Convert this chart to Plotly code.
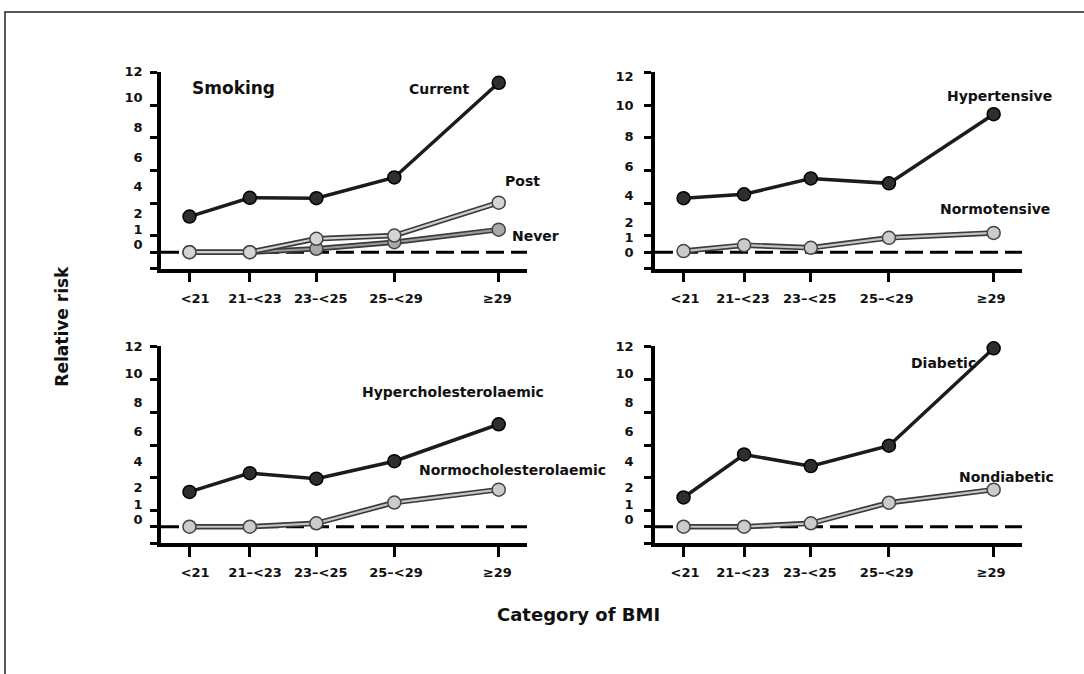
import plotly.graph_objects as go

# ---------------- data ----------------
categories = ["<21", "21\u2013<23", "23\u2013<25", "25\u2013<29", "\u226529"]
bmi_x = [0, 0.604, 1.27, 2.05, 3.095]          # category positions on the BMI axis
xlab_left = [0.057, 0.657, 1.314, 2.067, 3.082]  # where the labels sit (left panels)
xlab_right = [0.015, 0.593, 1.26, 2.027, 3.07]   # (right panels)

ytick_vals = [0, 1, 2, 4, 6, 8, 10, 12]
ylab_text = ["12", "10", "8", "6", "4", "2", "1", "0"]
ylab_tl = [12.04, 10.45, 8.63, 6.82, 5.0, 3.4, 2.39, 1.48]
ylab_tr = [11.76, 9.95, 8.07, 6.26, 4.5, 2.85, 1.9, 0.97]
ylab_bottom = [12.04, 10.4, 8.58, 6.81, 5.02, 3.38, 2.36, 1.42]

smoking_current = [3.18, 4.33, 4.30, 5.57, 11.36]
smoking_post = [1.0, 1.0, 1.82, 2.02, 4.03]
smoking_never = [1.0, 1.0, 1.21, 1.61, 2.38]

hypertensive = [4.30, 4.54, 5.51, 5.21, 9.44]
normotensive = [1.07, 1.43, 1.27, 1.88, 2.18]

hyperchol = [3.13, 4.28, 3.94, 5.01, 7.27]
normochol = [1.0, 1.0, 1.21, 2.48, 3.27]

diabetic = [2.79, 5.42, 4.71, 5.96, 11.92]
nondiabetic = [1.0, 1.0, 1.21, 2.47, 3.27]

reference_rr = 1

W, H = 1084, 674
FONT = "DejaVu Sans"


def px(x):
    return x / W


def py(y):
    return 1 - y / H


fig = go.Figure()

panels = [
    dict(n=1, xd=[px(161), px(527)], yd=[py(264.3), py(65.2)], xl=xlab_left, yl=ylab_tl, ys=12),
    dict(n=2, xd=[px(655), px(1022)], yd=[py(264.3), py(65.2)], xl=xlab_right, yl=ylab_tr, ys=15),
    dict(n=3, xd=[px(161), px(527)], yd=[py(541.7), py(342.7)], xl=xlab_left, yl=ylab_bottom, ys=12),
    dict(n=4, xd=[px(655), px(1022)], yd=[py(541.7), py(342.7)], xl=xlab_right, yl=ylab_bottom, ys=15),
]

tickfont = dict(family=FONT, size=13, color="#111", weight="bold")

layout = dict(
    width=W, height=H,
    margin=dict(l=0, r=0, t=0, b=0),
    paper_bgcolor="white", plot_bgcolor="white",
    showlegend=False,
    shapes=[], annotations=[],
)

for p in panels:
    n = p["n"]
    xk = "xaxis" if n == 1 else f"xaxis{n}"
    yk = "yaxis" if n == 1 else f"yaxis{n}"
    xid = "x" if n == 1 else f"x{n}"
    yid = "y" if n == 1 else f"y{n}"
    layout[xk] = dict(
        domain=p["xd"], range=[-0.285, 3.378], anchor=yid,
        showline=True, linewidth=3.5, linecolor="black",
        showgrid=False, zeroline=False,
        tickmode="array", tickvals=p["xl"], ticktext=categories,
        ticks="", ticklabelstandoff=15, tickfont=tickfont,
        minor=dict(tickmode="array", tickvals=bmi_x, ticks="outside",
                   ticklen=10, tickwidth=3, tickcolor="black", showgrid=False),
    )
    layout[yk] = dict(
        domain=p["yd"], range=[0, 12.05], anchor=xid,
        showline=True, linewidth=3.5, linecolor="black",
        showgrid=False, zeroline=False,
        tickmode="array", tickvals=p["yl"], ticktext=ylab_text,
        ticks="", ticklabelstandoff=p["ys"], tickfont=tickfont,
        minor=dict(tickmode="array", tickvals=ytick_vals, ticks="outside",
                   ticklen=7, tickwidth=3, tickcolor="black", showgrid=False),
    )
    layout["shapes"].append(dict(
        type="line", xref=f"{xid} domain", yref=yid, x0=0, x1=1,
        y0=reference_rr, y1=reference_rr, layer="below",
        line=dict(color="black", width=3, dash="18px,7px"),
    ))


def dark(y, n):
    fig.add_trace(go.Scatter(
        x=bmi_x, y=y, mode="lines+markers",
        xaxis="x" if n == 1 else f"x{n}", yaxis="y" if n == 1 else f"y{n}",
        line=dict(color="#1c1c1c", width=3.5),
        marker=dict(size=13, color="#2e2e2e", line=dict(color="#000", width=1.5)),
        hoverinfo="skip", cliponaxis=False,
    ))


def light(y, n, fill="#cbcbcb", inner="#c4c4c4"):
    xa = "x" if n == 1 else f"x{n}"
    ya = "y" if n == 1 else f"y{n}"
    fig.add_trace(go.Scatter(
        x=bmi_x, y=y, mode="lines", xaxis=xa, yaxis=ya,
        line=dict(color="#3a3a3a", width=5.5), hoverinfo="skip", cliponaxis=False,
    ))
    fig.add_trace(go.Scatter(
        x=bmi_x, y=y, mode="lines+markers", xaxis=xa, yaxis=ya,
        line=dict(color=inner, width=2.2),
        marker=dict(size=13, color=fill, line=dict(color="#444", width=1.5)),
        hoverinfo="skip", cliponaxis=False,
    ))


dark(smoking_current, 1)
light(smoking_never, 1, fill="#a9a9a9", inner="#9a9a9a")
light(smoking_post, 1, fill="#d4d4d4", inner="#cfcfcf")
dark(hypertensive, 2)
light(normotensive, 2)
dark(hyperchol, 3)
light(normochol, 3)
dark(diabetic, 4)
light(nondiabetic, 4)

labels = [
    ("Smoking", 190, 81.7, 17),
    ("Current", 406.7, 83.3, 14),
    ("Post", 503, 176, 14),
    ("Never", 510, 231, 14),
    ("Hypertensive", 945, 90, 14),
    ("Normotensive", 938.3, 204, 14),
    ("Hypercholesterolaemic", 360, 389.3, 14),
    ("Normocholesterolaemic", 416.7, 468.3, 14),
    ("Diabetic", 909.3, 360, 14),
    ("Nondiabetic", 956.7, 475, 14),
]
for t, x, y, s in labels:
    layout["annotations"].append(dict(
        text=t, xref="paper", yref="paper", x=px(x), y=py(y),
        xanchor="left", yanchor="middle", showarrow=False,
        font=dict(family=FONT, size=s, color="#111", weight="bold"),
    ))

layout["annotations"].append(dict(
    text="Relative risk", xref="paper", yref="paper", x=px(62), y=py(323),
    xanchor="center", yanchor="middle", showarrow=False, textangle=-90,
    font=dict(family=FONT, size=17, color="#111", weight="bold"),
))
layout["annotations"].append(dict(
    text="Category of BMI", xref="paper", yref="paper", x=px(578), y=py(614),
    xanchor="center", yanchor="middle", showarrow=False,
    font=dict(family=FONT, size=18, color="#111", weight="bold"),
))

# outer frame
layout["shapes"].append(dict(
    type="rect", xref="paper", yref="paper",
    x0=px(5), x1=1.02, y0=-0.02, y1=py(5),
    line=dict(color="#222", width=1.5), fillcolor="rgba(0,0,0,0)",
))

fig.update_layout(**layout)

post = (
    "document.body.style.margin='0';document.body.style.padding='0';"
    "var d=document.getElementById('{plot_id}');"
    "d.style.position='absolute';d.style.left='0px';d.style.top='0px';"
)
fig.write_html("out.html", post_script=post, config={"displayModeBar": False})
